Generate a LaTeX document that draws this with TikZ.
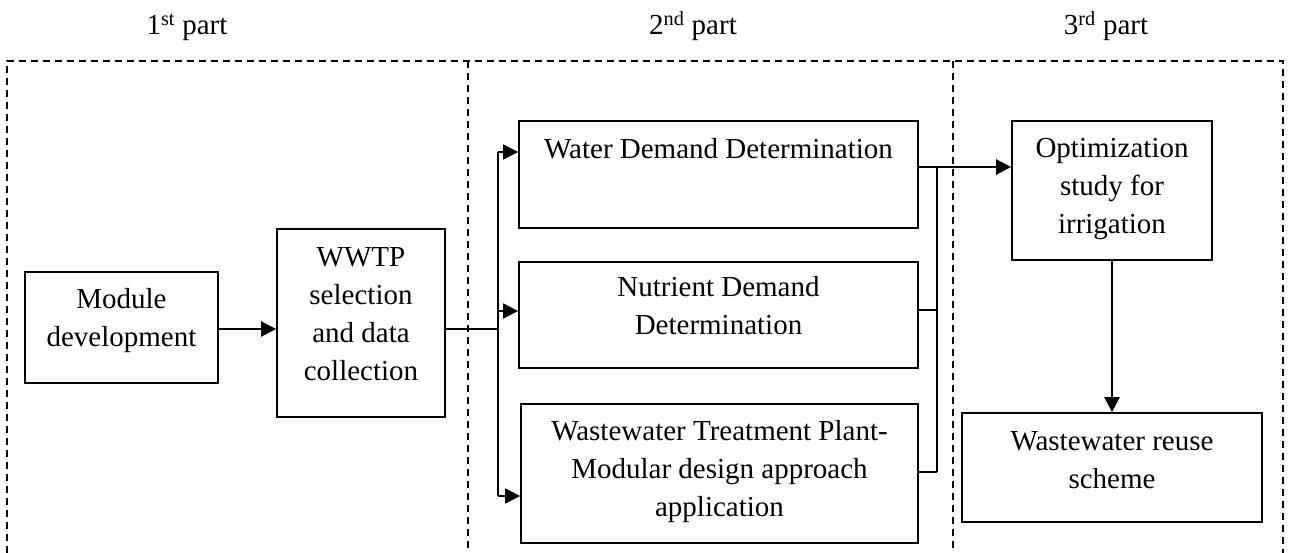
\documentclass[tikz,border=0pt]{standalone}
\usepackage{fontspec}
\setmainfont{Liberation Serif}
\usetikzlibrary{arrows.meta}
\newcommand\boxtxt[2]{\raisebox{#1pt}[0pt][0pt]{\begin{tabular}[b]{@{}c@{}}#2\end{tabular}}}
\begin{document}
\begin{tikzpicture}[x=1pt,y=-1pt,
  every node/.style={font=\fontsize{29}{38}\selectfont},
  box/.style={draw, line width=1.8pt, rectangle, inner sep=0pt},
  line/.style={line width=1.8pt},
  arr/.style={line width=1.8pt, -{Triangle[length=15pt,width=15pt]}},
  thickarr/.style={line width=2.6pt, -{Triangle[length=15pt,width=15pt]}},
  dashline/.style={line width=1.3pt, dash pattern=on 7pt off 5pt},
  head/.style={anchor=base}]
\useasboundingbox (0,0) rectangle (1292,553);
% headers
\node[head] (h1) at (187,35) {1\textsuperscript{st} part};
\node[head] (h2) at (693,35) {2\textsuperscript{nd} part};
\node[head] (h3) at (1106,35) {3\textsuperscript{rd} part};
% dashed frame
\draw[dashline] (7,553) -- (7,61) -- (1283,61) -- (1283,553);
\draw[dashline] (468,61) -- (468,553);
\draw[dashline] (953,61) -- (953,553);
% boxes
\node[box, minimum width=193, minimum height=111] (mod) at (121.5,327.5) {\boxtxt{-18.5}{Module\\development}};
\node[box, minimum width=168, minimum height=188] (wwtp) at (361,323) {\boxtxt{-57}{WWTP\\selection\\and data\\collection}};
\node[box, minimum width=399, minimum height=107] (water) at (718.5,174.5) {\boxtxt{15.5}{Water Demand Determination}};
\node[box, minimum width=399, minimum height=106] (nutr) at (718.5,315) {\boxtxt{-19}{Nutrient Demand\\Determination}};
\node[box, minimum width=397, minimum height=139] (wwtpm) at (719.5,473.5) {\boxtxt{-42.5}{Wastewater Treatment Plant-\\Modular design approach\\application}};
\node[box, minimum width=200, minimum height=139] (opt) at (1112,190.5) {\boxtxt{-43.5}{Optimization\\study for\\irrigation}};
\node[box, minimum width=300, minimum height=109] (reuse) at (1112,467.5) {\boxtxt{-20.5}{Wastewater reuse\\scheme}};
% junction coordinates
\coordinate (jL) at (498,329);
\coordinate (jLt) at (498,152);
\coordinate (jLm) at (498,311);
\coordinate (jLb) at (498,496);
\coordinate (jR) at (937,167);
\coordinate (jRm) at (937,310);
\coordinate (jRb) at (937,472);
% connectors
\draw[thickarr] (mod.east |- jL) -- (wwtp.west |- jL);
\draw[line] (wwtp.east |- jL) -- (jL);
\draw[line] (jLt) -- (jLb);
\draw[arr] (jLt) -- (jLt -| water.west);
\draw[arr] (jLm) -- (jLm -| nutr.west);
\draw[arr] (jLb) -- (jLb -| wwtpm.west);
\draw[thickarr] (water.east |- jR) -- (jR -| opt.west);
\draw[line] (jR) -- (jRb);
\draw[line] (nutr.east |- jRm) -- (jRm);
\draw[line] (wwtpm.east |- jRb) -- (jRb);
\draw[thickarr] (opt.south) -- (reuse.north);
\end{tikzpicture}
\end{document}
